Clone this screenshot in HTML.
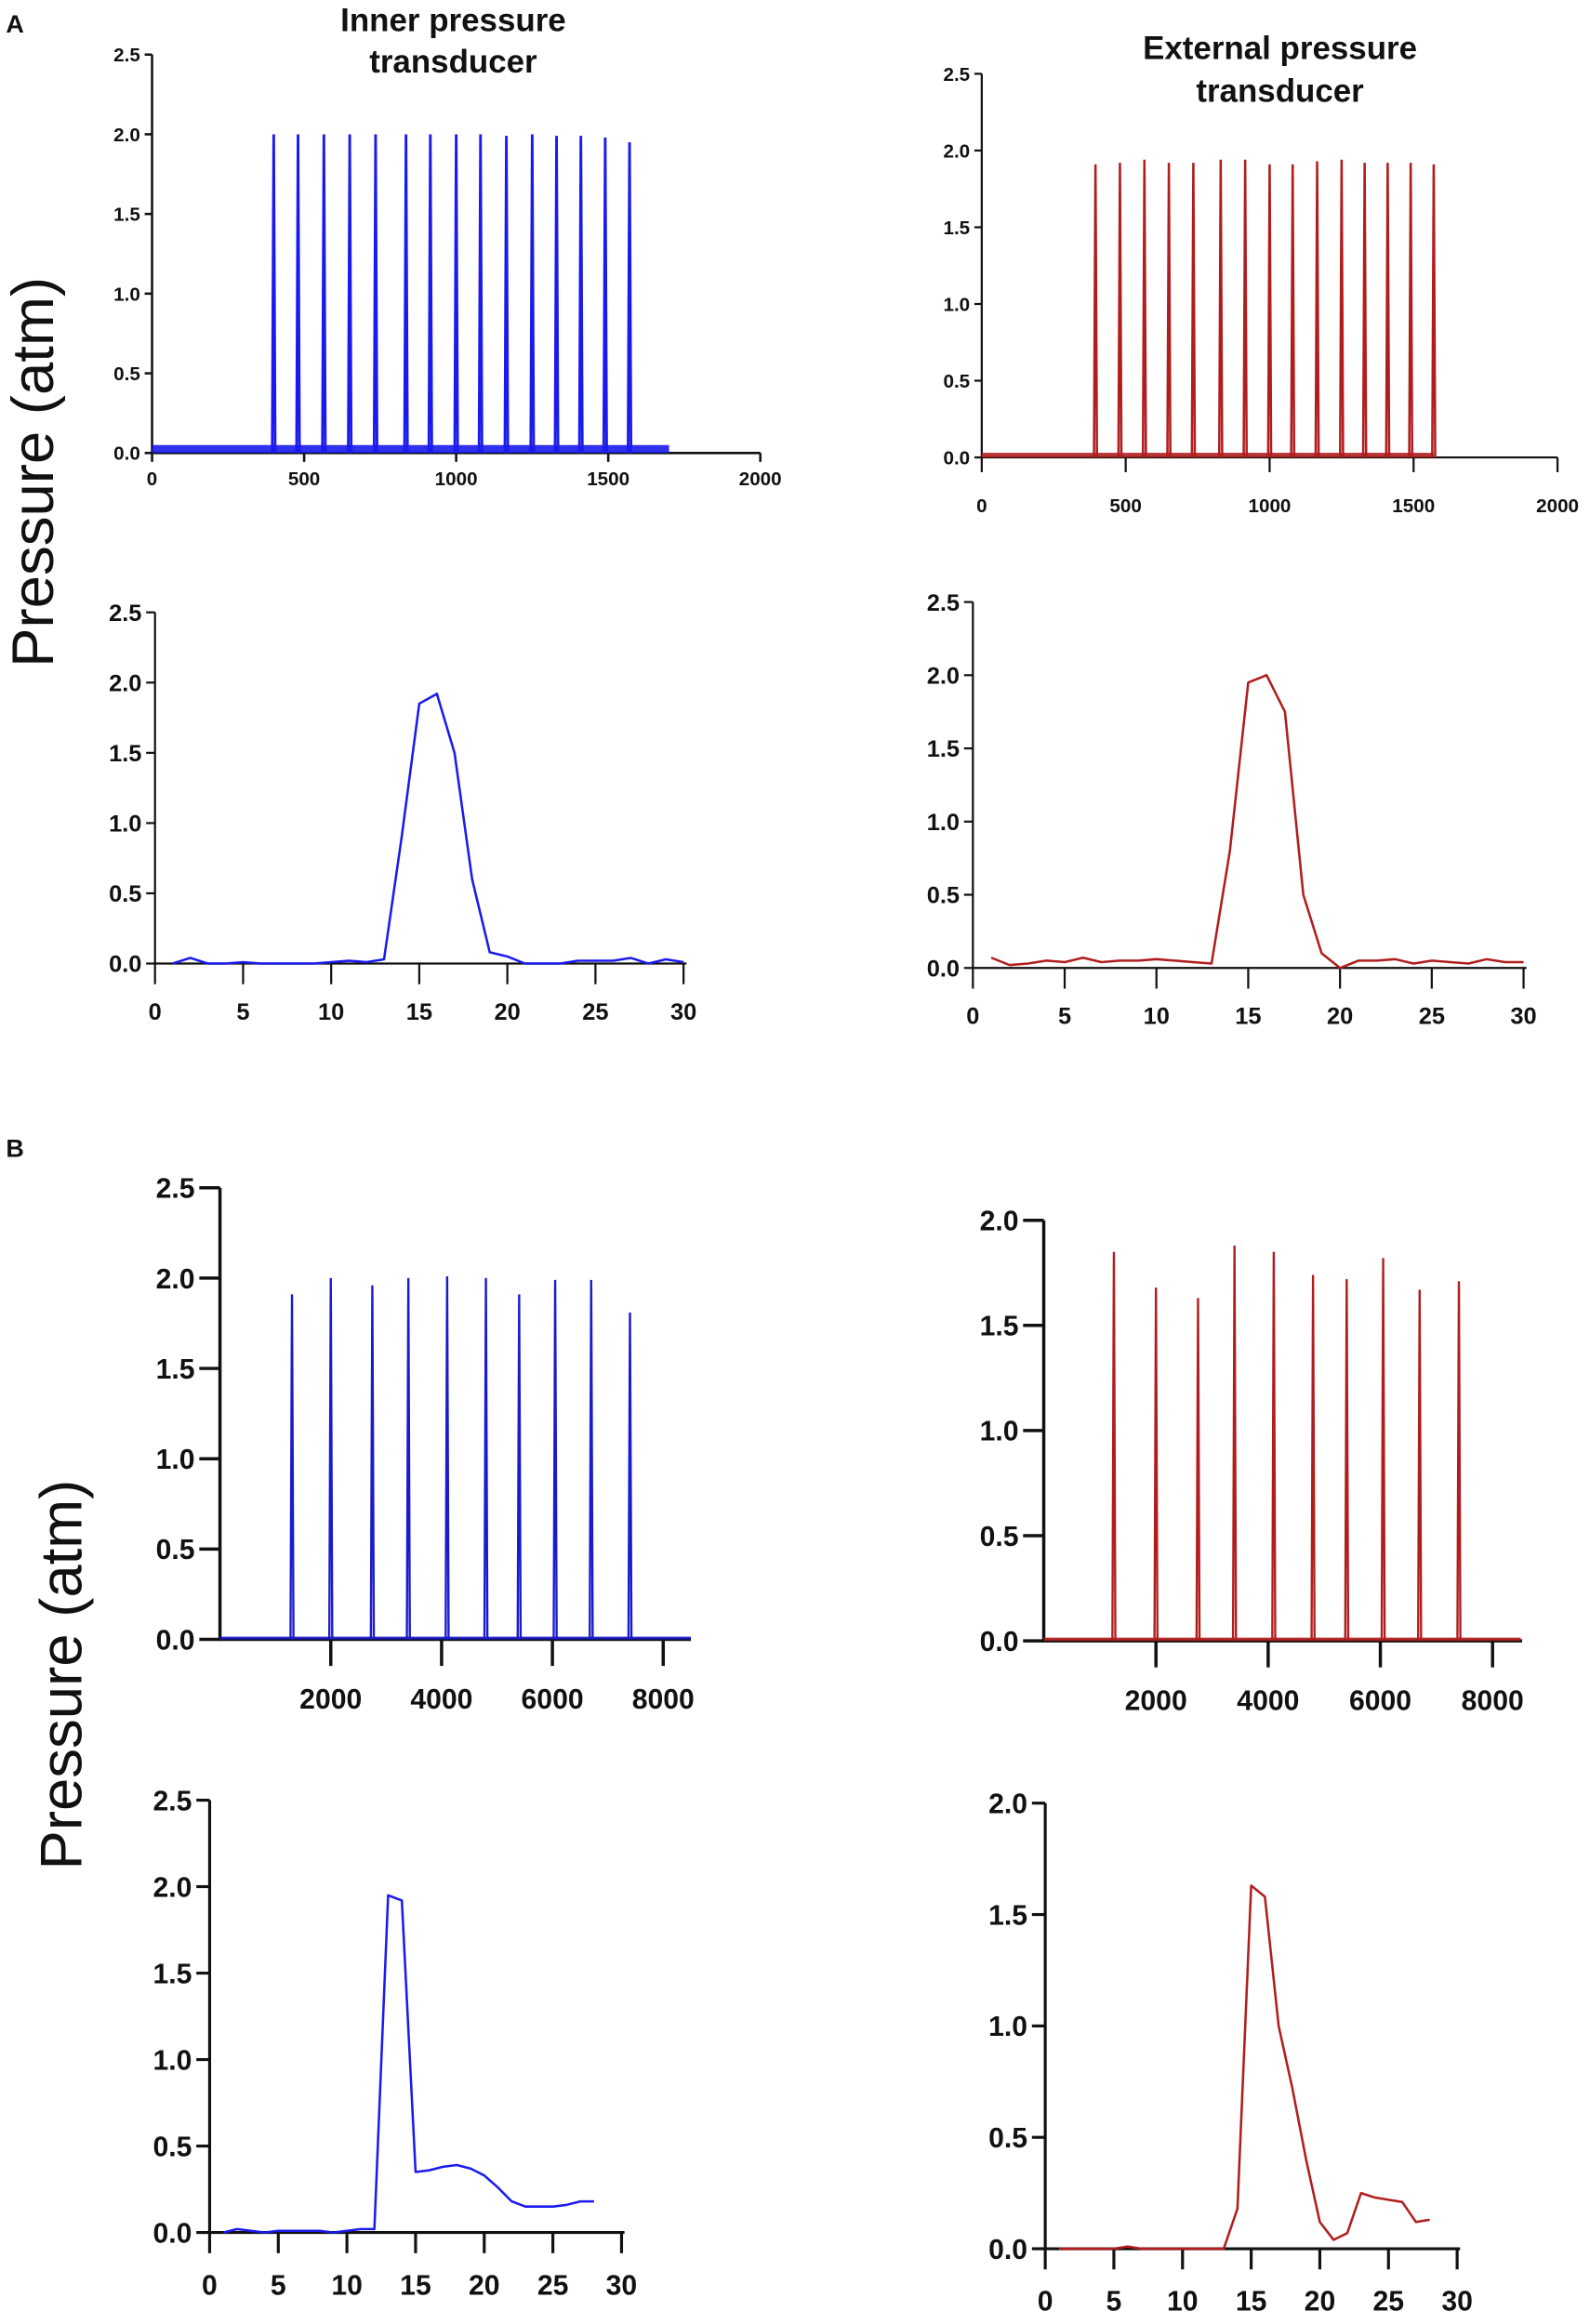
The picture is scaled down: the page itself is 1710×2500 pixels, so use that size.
<!DOCTYPE html>
<html><head><meta charset="utf-8"><style>
html,body{margin:0;padding:0;background:#fff;}
svg{display:block;}
text{font-family:"Liberation Sans Narrow","Liberation Sans",sans-serif;font-weight:bold;fill:#111;}
.ttl{font-family:"Liberation Sans",sans-serif;font-weight:normal;}
</style></head><body>
<svg id="fig" width="1710" height="2500" viewBox="0 0 1077 1575" preserveAspectRatio="none" xmlns="http://www.w3.org/2000/svg">
<text x="4" y="22" font-size="17" font-family="Liberation Sans">A</text>
<text x="4" y="784" font-size="17" font-family="Liberation Sans">B</text>
<text x="307" y="21" font-size="22" text-anchor="middle">Inner pressure</text>
<text x="307" y="49" font-size="22" text-anchor="middle">transducer</text>
<text x="867" y="40" font-size="22" text-anchor="middle">External pressure</text>
<text x="867" y="69" font-size="22" text-anchor="middle">transducer</text>
<text class="ttl" transform="translate(36,320) rotate(-90)" font-size="40" text-anchor="middle">Pressure (atm)</text>
<text class="ttl" transform="translate(55,1135) rotate(-90)" font-size="40" text-anchor="middle">Pressure (atm)</text>
</svg>
<script>
// ---- data ----
const a1SpikeX = [400,480,565,650,735,835,915,1000,1080,1165,1250,1330,1410,1490,1570];
const a1SpikeY = [2.0,2.0,2.0,2.0,2.0,2.0,2.0,2.0,2.0,1.99,2.0,1.99,1.99,1.98,1.95];
const a2SpikeX = [395,480,565,650,735,830,915,1000,1080,1165,1250,1330,1410,1490,1570];
const a2SpikeY = [1.91,1.92,1.94,1.92,1.92,1.94,1.94,1.91,1.91,1.93,1.94,1.92,1.92,1.92,1.91];
const a3X = [1,2,3,4,5,6,7,8,9,10,11,12,13,14,15,16,17,18,19,20,21,22,23,24,25,26,27,28,29,30];
const a3Y = [0,0.04,0,0,0.01,0,0,0,0,0.01,0.02,0.01,0.03,0.9,1.85,1.92,1.5,0.6,0.08,0.05,0,0,0,0.02,0.02,0.02,0.04,0,0.03,0.01];
const a4X = [1,2,3,4,5,6,7,8,9,10,11,12,13,14,15,16,17,18,19,20,21,22,23,24,25,26,27,28,29,30];
const a4Y = [0.07,0.02,0.03,0.05,0.04,0.07,0.04,0.05,0.05,0.06,0.05,0.04,0.03,0.8,1.95,2.0,1.75,0.5,0.1,0,0.05,0.05,0.06,0.03,0.05,0.04,0.03,0.06,0.04,0.04];
const b1SpikeX = [1300,2000,2750,3400,4100,4800,5400,6050,6700,7400];
const b1SpikeY = [1.91,2.0,1.96,2.0,2.01,2.0,1.91,1.99,1.99,1.81];
const b2SpikeX = [1250,2000,2750,3400,4100,4800,5400,6050,6700,7400];
const b2SpikeY = [1.85,1.68,1.63,1.88,1.85,1.74,1.72,1.82,1.67,1.71];
const b3X = [1,2,3,4,5,6,7,8,9,10,11,12,13,14,15,16,17,18,19,20,21,22,23,24,25,26,27,28];
const b3Y = [0,0.02,0.01,0,0.01,0.01,0.01,0.01,0,0.01,0.02,0.02,1.95,1.92,0.35,0.36,0.38,0.39,0.37,0.33,0.26,0.18,0.15,0.15,0.15,0.16,0.18,0.18];
const b4X = [1,2,3,4,5,6,7,8,9,10,11,12,13,14,15,16,17,18,19,20,21,22,23,24,25,26,27,28];
const b4Y = [0,0,0,0,0,0.01,0,0,0,0,0,0,0,0.18,1.63,1.58,1.0,0.72,0.4,0.12,0.04,0.07,0.25,0.23,0.22,0.21,0.12,0.13];
const yTicks25 = [0,0.5,1.0,1.5,2.0,2.5];
const yTicks20 = [0,0.5,1.0,1.5,2.0];
const xTicksA = [0,500,1000,1500,2000];
const xTicksB = [2000,4000,6000,8000];
const xTicks30 = [0,5,10,15,20,25,30];
const a1Base = 0.05, a2Base = 0.03, bBase = 0.015;

const NS = 'http://www.w3.org/2000/svg';
const fig = document.getElementById('fig');
function el(tag, attrs, parent){const e=document.createElementNS(NS,tag);for(const k in attrs)e.setAttribute(k,attrs[k]);(parent||fig).appendChild(e);return e;}

function panel(p){
  const g = el('g',{});
  
  
  const sx = v => p.x0 + (v - p.xmin)/(p.xmax - p.xmin)*(p.x1 - p.x0);
  const sy = v => p.y0 - (v)/(p.ymax)*(p.y0 - p.y1);
  const ax = el('path',{d:`M${p.axX},${p.y1}V${p.y0}H${p.xEnd}`,fill:'none',stroke:'#111','stroke-width':p.aw},g);
  
  
  p.yt.forEach(v=>{
    el('line',{x1:p.axX-p.tl,x2:p.axX,y1:sy(v),y2:sy(v),stroke:'#111','stroke-width':p.aw},g);
    const t = el('text',{x:p.axX-p.tl-3,y:sy(v)+p.fs*0.36,'font-size':p.fs,'text-anchor':'end'},g);
    t.textContent = v.toFixed(1);
    
    
  });
  p.xt.forEach(v=>{
    el('line',{x1:sx(v),x2:sx(v),y1:p.y0,y2:p.y0+p.xtl,stroke:'#111','stroke-width':p.aw},g);
    const t = el('text',{x:sx(v),y:p.y0+p.xtl+p.fs*1.0+p.lo,'font-size':p.fs,'text-anchor':'middle'},g);
    t.textContent = v;
    
    
  });
  if(p.sx){
    const bl = el('line',{x1:sx(p.xmin),x2:sx(p.baseEnd),y1:sy(p.base/2),y2:sy(p.base/2),stroke:p.col,'stroke-width':Math.max(1.5,sy(0)-sy(p.base)),opacity:0.9},g);
    
    
    p.sx.forEach((x,i)=>{
      const s = el('path',{d:`M${sx(x)-1},${sy(0)}L${sx(x)},${sy(p.sy[i])}L${sx(x)+1},${sy(0)}`,fill:'none',stroke:p.col,'stroke-width':p.lw},g);
      
      
    });
  } else {
    const d = p.lx.map((x,i)=>(i?'L':'M')+sx(x).toFixed(2)+','+sy(p.ly[i]).toFixed(2)).join('');
    const l = el('path',{d:d,fill:'none',stroke:p.col,'stroke-width':p.lw,'stroke-linejoin':'round'},g);
    
    
  }
}
const BLUE='#1a1aee', RED='#b11d1d';
panel({name:'panel-a-inner-series',axX:103,x0:103,x1:515,xmin:0,xmax:2000,xEnd:515,y0:307,y1:37,ymax:2.5,yt:yTicks25,xt:xTicksA,fs:13,tl:5,xtl:6,aw:1.6,lo:3,col:BLUE,sx:a1SpikeX,sy:a1SpikeY,base:a1Base,baseEnd:1700,lw:1.8});
panel({name:'panel-a-external-series',axX:665,x0:665,x1:1055,xmin:0,xmax:2000,xEnd:1055,y0:310,y1:50,ymax:2.5,yt:yTicks25,xt:xTicksA,fs:13,tl:5,xtl:10,aw:1.4,lo:14,col:RED,sx:a2SpikeX,sy:a2SpikeY,base:a2Base,baseEnd:1570,lw:1.6});
panel({name:'panel-a-inner-single',axX:105,x0:105,x1:463,xmin:0,xmax:30,xEnd:465,y0:653,y1:415,ymax:2.5,yt:yTicks25,xt:xTicks30,fs:16,tl:6,xtl:14,aw:1.4,lo:8,col:BLUE,lx:a3X,ly:a3Y,lw:1.6});
panel({name:'panel-a-external-single',axX:659,x0:659,x1:1032,xmin:0,xmax:30,xEnd:1034,y0:656,y1:408,ymax:2.5,yt:yTicks25,xt:xTicks30,fs:16,tl:6,xtl:14,aw:1.4,lo:8,col:RED,lx:a4X,ly:a4Y,lw:1.6});
panel({name:'panel-b-inner-series',axX:149,x0:149,x1:468,xmin:0,xmax:8500,xEnd:468,y0:1111,y1:805,ymax:2.5,yt:yTicks25,xt:xTicksB,fs:19,tl:14,xtl:18,aw:2.2,lo:10,col:'#1a1ad0',sx:b1SpikeX,sy:b1SpikeY,base:bBase,baseEnd:8500,lw:1.5});
panel({name:'panel-b-external-series',axX:707,x0:707,x1:1030,xmin:0,xmax:8500,xEnd:1031,y0:1112,y1:827,ymax:2.0,yt:yTicks20,xt:xTicksB,fs:19,tl:14,xtl:18,aw:2.2,lo:10,col:RED,sx:b2SpikeX,sy:b2SpikeY,base:bBase,baseEnd:8500,lw:1.5});
panel({name:'panel-b-inner-single',axX:142,x0:142,x1:421,xmin:0,xmax:30,xEnd:423,y0:1513,y1:1220,ymax:2.5,yt:yTicks25,xt:xTicks30,fs:19,tl:9,xtl:14,aw:2,lo:9,col:BLUE,lx:b3X,ly:b3Y,lw:1.6});
panel({name:'panel-b-external-single',axX:708,x0:708,x1:987,xmin:0,xmax:30,xEnd:989,y0:1524,y1:1222,ymax:2.0,yt:yTicks20,xt:xTicks30,fs:19,tl:9,xtl:14,aw:2,lo:9,col:RED,lx:b4X,ly:b4Y,lw:1.6});
</script>
</body></html>
